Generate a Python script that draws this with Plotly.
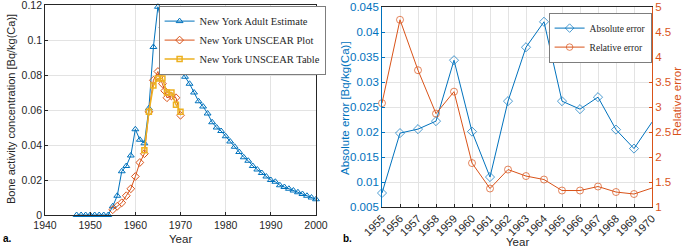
import plotly.graph_objects as go

# ---------------- Panel a data ----------------
est_years = list(range(1947, 2001))
adult_estimate = [0, 0, 0, 0, 0, 0, 0, 0,
                  0.005, 0.011, 0.025, 0.028, 0.034, 0.049, 0.043, 0.041, 0.061, 0.096,
                  0.119, 0.108, 0.100, 0.094, 0.088, 0.083, 0.079, 0.075, 0.070, 0.065,
                  0.062, 0.058, 0.053, 0.050, 0.048, 0.045, 0.042, 0.039, 0.036, 0.033,
                  0.031, 0.028, 0.026, 0.024, 0.022, 0.020, 0.019, 0.017, 0.016, 0.015,
                  0.014, 0.013, 0.012, 0.011, 0.010, 0.009]

plot_years = [1955, 1956, 1957, 1958, 1959, 1960, 1961, 1962, 1963, 1964, 1965, 1965.3,
              1966, 1966.5, 1967, 1968, 1969, 1970]
unscear_plot = [0.003, 0.005, 0.007, 0.011, 0.015, 0.022, 0.030, 0.035, 0.059, 0.077, 0.082, 0.079,
                0.075, 0.071, 0.067, 0.068, 0.067, 0.057]

table_years = [1962, 1963, 1964, 1965, 1966, 1967, 1968, 1969, 1970]
unscear_table = [0.037, 0.059, 0.074, 0.078, 0.078, 0.070, 0.070, 0.063, 0.059]

y_ticks_a = [0, 0.02, 0.04, 0.06, 0.08, 0.1, 0.12]
y_ticklabels_a = ["0", "0.02", "0.04", "0.06", "0.08", "0.1", "0.12"]

# ---------------- Panel b data ----------------
err_years = [1955, 1956, 1957, 1958, 1959, 1960, 1961, 1962, 1963, 1964, 1965, 1966, 1967,
             1968, 1969, 1970]
absolute_error = [0.0078, 0.0198, 0.0206, 0.0222, 0.0344, 0.0201, 0.0110, 0.0262, 0.0370,
                  0.0421, 0.0262, 0.0246, 0.0270, 0.0205, 0.0167, 0.0220]
relative_error = [3.08, 4.75, 3.74, 2.87, 3.31, 1.88, 1.37, 1.75, 1.62, 1.55, 1.33, 1.33,
                  1.41, 1.30, 1.26, 1.38]

y_ticks_abs = [0.005, 0.01, 0.015, 0.02, 0.025, 0.03, 0.035, 0.04, 0.045]
y_ticklabels_abs = ["0.005", "0.01", "0.015", "0.02", "0.025", "0.03", "0.035", "0.04", "0.045"]

BLUE = "#0072BD"
ORANGE = "#D95319"
YELLOW = "#EDB120"
AX = "#262626"
GRID = "#E3E3E3"
SANS = "Liberation Sans, Arial, sans-serif"
SERIF = "Liberation Serif, Times New Roman, serif"

fig = go.Figure()

fig.add_trace(go.Scatter(x=est_years, y=adult_estimate, mode="lines+markers",
                         name="New York Adult Estimate", legend="legend", cliponaxis=False,
                         line=dict(color=BLUE, width=1),
                         marker=dict(symbol="triangle-up-open", size=6, color=BLUE,
                                     line=dict(width=1, color=BLUE)),
                         xaxis="x", yaxis="y"))
fig.add_trace(go.Scatter(x=plot_years, y=unscear_plot, mode="lines+markers",
                         name="New York UNSCEAR Plot", legend="legend", cliponaxis=False,
                         line=dict(color=ORANGE, width=1),
                         marker=dict(symbol="diamond-open", size=6, color=ORANGE,
                                     line=dict(width=1, color=ORANGE)),
                         xaxis="x", yaxis="y"))
fig.add_trace(go.Scatter(x=table_years, y=unscear_table, mode="lines+markers",
                         name="New York UNSCEAR Table", legend="legend", cliponaxis=False,
                         line=dict(color=YELLOW, width=1.5),
                         marker=dict(symbol="square-open", size=5, color=YELLOW,
                                     line=dict(width=1.5, color=YELLOW)),
                         xaxis="x", yaxis="y"))

nb = len(err_years)
fig.add_trace(go.Scatter(x=err_years, y=absolute_error, mode="lines+markers",
                         name="Absolute error", legend="legend2", cliponaxis=False,
                         line=dict(color=BLUE, width=1),
                         marker=dict(symbol="diamond-open", size=[7] * (nb - 1) + [0], color=BLUE,
                                     line=dict(width=1, color=BLUE)),
                         xaxis="x2", yaxis="y2"))
fig.add_trace(go.Scatter(x=err_years, y=relative_error, mode="lines+markers",
                         name="Relative error", legend="legend2", cliponaxis=False,
                         line=dict(color=ORANGE, width=1),
                         marker=dict(symbol="circle-open", size=[7] * (nb - 1) + [0], color=ORANGE,
                                     line=dict(width=1, color=ORANGE)),
                         xaxis="x2", yaxis="y3"))

W, H = 685, 248
axfont = dict(family=SANS, size=10.5, color=AX)
common = dict(zeroline=False, automargin=False, ticks="inside", ticklen=3,
              ticklabeloverflow="allow")


def px(x, y):
    return x / W, 1 - y / H


fig.update_layout(
    template="none",
    width=W, height=H,
    margin=dict(l=0, r=0, t=0, b=0, autoexpand=False),
    paper_bgcolor="white", plot_bgcolor="white",
    font=dict(family=SANS, size=10.5, color=AX),
    xaxis=dict(domain=[45 / W, 316 / W], range=[1940, 2000], dtick=10, tick0=1940,
               showgrid=True, gridcolor=GRID, gridwidth=1,
               showline=True, linecolor=AX, linewidth=0.8, mirror=True,
               tickcolor=AX, tickfont=axfont, anchor="y", **common),
    yaxis=dict(domain=[33 / H, 243 / H], range=[0, 0.12],
               tickmode="array", tickvals=y_ticks_a, ticktext=y_ticklabels_a,
               showgrid=True, gridcolor=GRID, gridwidth=1,
               showline=True, linecolor=AX, linewidth=0.8, mirror=True,
               tickcolor=AX, tickfont=axfont, anchor="x", **common),
    xaxis2=dict(domain=[382 / W, 652 / W], range=[1955, 1970], dtick=1, tick0=1955,
                showgrid=True, gridcolor=GRID, gridwidth=1,
                showline=True, linecolor=AX, linewidth=0.8, mirror=True,
                tickcolor=AX, tickangle=-45,
                tickfont=dict(family=SANS, size=11, color=AX), anchor="y2", **common),
    yaxis2=dict(domain=[41 / H, 240.7 / H], range=[0.005, 0.045],
                tickmode="array", tickvals=y_ticks_abs, ticktext=y_ticklabels_abs,
                showgrid=True, gridcolor=GRID, gridwidth=1,
                showline=True, linecolor=BLUE, linewidth=0.8,
                tickcolor=BLUE, tickfont=dict(family=SANS, size=11.5, color=BLUE),
                anchor="x2", **common),
    yaxis3=dict(domain=[41 / H, 240.7 / H], range=[1, 5], dtick=0.5, tick0=1,
                overlaying="y2", side="right", showgrid=False,
                showline=True, linecolor=ORANGE, linewidth=0.8,
                tickcolor=ORANGE, tickfont=dict(family=SANS, size=11.5, color=ORANGE),
                anchor="x2", **common),
    legend=dict(x=159 / W, y=1 - 6 / H, xanchor="left", yanchor="top",
                bgcolor="white", bordercolor="#262626", borderwidth=0.6,
                font=dict(family=SERIF, size=10.5, color=AX), itemwidth=30,
                tracegroupgap=0),
    legend2=dict(x=549 / W, y=1 - 13 / H, xanchor="left", yanchor="top",
                 bgcolor="white", bordercolor="#262626", borderwidth=0.6,
                 font=dict(family=SERIF, size=9.5, color=AX), itemwidth=30,
                 tracegroupgap=0),
    showlegend=True,
)

annots = [
    ("Year", 180, 239, 0, AX, 11.5),
    ("Bone activity concentration [Bq/kg(Ca)]", 11, 109, -90, AX, 11),
    ("Year", 517, 242, 0, AX, 11.5),
    ("Absolute error [Bq/kg(Ca)]", 345, 108, -90, BLUE, 11.5),
    ("Relative error", 677, 102, -90, ORANGE, 11.5),
    ("<b>a.</b>", 7, 238, 0, "black", 10),
    ("<b>b.</b>", 348, 238, 0, "black", 10),
]
for text, x, y, ang, col, sz in annots:
    xp, yp = px(x, y)
    fig.add_annotation(text=text, x=xp, y=yp, xref="paper", yref="paper",
                       xanchor="center", yanchor="middle", showarrow=False, textangle=ang,
                       font=dict(family=SANS, size=sz, color=col))

fig.write_html("out.html", config={"displayModeBar": False},
               post_script="document.body.style.margin='0';document.body.style.overflow='hidden';")
